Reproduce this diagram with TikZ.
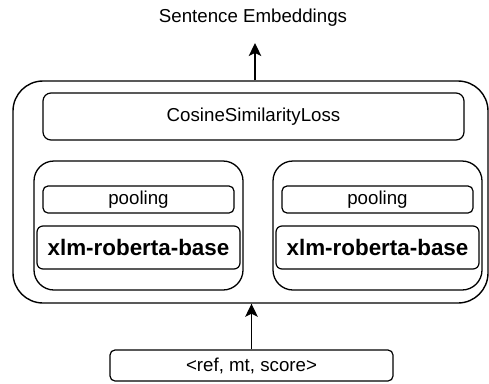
\documentclass[tikz,border=0pt]{standalone}
\usepackage{fontspec}
\setmainfont{Liberation Sans}
\usetikzlibrary{arrows.meta}
\begin{document}
\begin{tikzpicture}[x=1pt,y=-1pt,
  box/.style={draw,line width=1.2pt,rectangle,inner sep=0pt,font=\fontsize{18.7}{22}\selectfont},
  bigbox/.style={draw,line width=1.4pt,rectangle,inner sep=0pt},
  arr/.style={line width=1.4pt,-{Stealth[length=13pt,width=12.5pt,inset=3pt]}},
  boldtxt/.style={font=\fontsize{22.4}{26}\selectfont\bfseries}]
\useasboundingbox (0,0) rectangle (489,383);
\node[bigbox,minimum width=475pt,minimum height=222pt,rounded corners=30pt] (outer) at (250.5,192) {};
\node[box,minimum width=421pt,minimum height=47pt,rounded corners=8pt] (loss) at (253.5,116.5) {CosineSimilarityLoss};
\node[bigbox,line width=1.3pt,minimum width=209pt,minimum height=129pt,rounded corners=20pt] (left) at (138.5,225.5) {};
\node[bigbox,line width=1.3pt,minimum width=209pt,minimum height=129pt,rounded corners=20pt] (right) at (377.5,225.5) {};
\node[box,minimum width=191pt,minimum height=27pt,rounded corners=5pt] (poolL) at (138.5,199.5) {pooling};
\node[box,boldtxt,minimum width=203pt,minimum height=43pt,rounded corners=6pt] (xlmL) at (138.5,247.5) {xlm-roberta-base};
\node[box,minimum width=191pt,minimum height=27pt,rounded corners=5pt] (poolR) at (377.5,199.5) {pooling};
\node[box,boldtxt,minimum width=203pt,minimum height=43pt,rounded corners=6pt] (xlmR) at (377.5,247.5) {xlm-roberta-base};
\node[box,minimum width=283pt,minimum height=31pt,rounded corners=5pt] (inp) at (251.5,365.5) {<ref, mt, score>};
\node[font=\fontsize{18.7}{22}\selectfont,inner sep=0pt] (emb) at (253,18) {Sentence Embeddings};
\coordinate (tip) at (255,43);
\draw[arr] (outer.north -| tip) -- (tip);
\draw[arr] (inp.north) -- (inp.north |- outer.south);
\end{tikzpicture}
\end{document}
